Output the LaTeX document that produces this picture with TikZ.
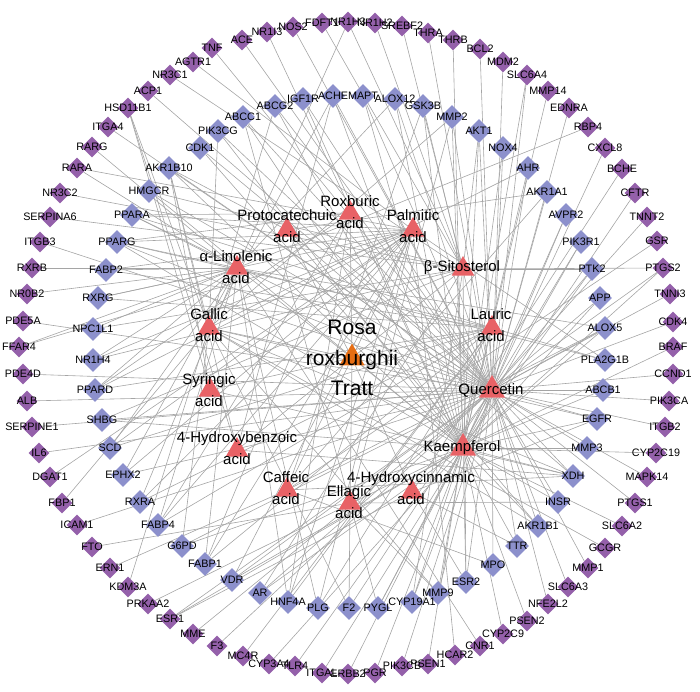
\documentclass[tikz,border=0pt]{standalone}
\usepackage{fontspec}
\setmainfont{Liberation Sans}
\usetikzlibrary{shapes.geometric,backgrounds}
\definecolor{outc}{RGB}{148,96,170}
\definecolor{inc}{RGB}{140,144,204}
\definecolor{cmpc}{RGB}{232,98,102}
\definecolor{herbc}{RGB}{230,110,20}
\definecolor{edgec}{RGB}{165,165,165}
\tikzset{
 glabel/.style={font=\fontsize{10.8}{12}\selectfont, text=black, inner sep=0pt},
 outg/.style={diamond, fill=outc, draw=none, minimum width=21pt, minimum height=21pt, inner sep=0pt, label={[glabel]center:#1}},
 ing/.style={diamond, fill=inc, draw=none, minimum width=24pt, minimum height=24pt, inner sep=0pt, label={[glabel]center:#1}},
 cmp/.style={regular polygon, regular polygon sides=3, fill=cmpc, draw=none, minimum size=26pt, inner sep=0pt},
 bigcmp/.style={cmp, minimum size=30pt},
 herb/.style={regular polygon, regular polygon sides=3, fill=herbc, draw=none, minimum size=29pt, inner sep=0pt},
 clabel/.style={font=\fontsize{15}{22}\selectfont, align=center, inner sep=0pt, text=black},
 hlabel/.style={font=\fontsize{21}{30.5}\selectfont, align=center, inner sep=0pt, text=black},
 edge/.style={draw=edgec, line width=0.6pt}
}
\newcommand\outgene[3]{\node[outg={#1}] (#1) at (#2,#3) {};}
\newcommand\ingene[3]{\node[ing={#1}] (#1) at (#2,#3) {};}
\begin{document}
\begin{tikzpicture}[x=1pt,y=-1pt]
\useasboundingbox (0,0) rectangle (700,691);
% outer ring
\outgene{NR1H3}{348}{22}
\outgene{NR1H2}{375}{23}
\outgene{SREBF2}{402}{26}
\outgene{THRA}{428}{33}
\outgene{THRB}{453}{40}
\outgene{BCL2}{480}{49}
\outgene{MDM2}{503}{62}
\outgene{SLC6A4}{527}{75}
\outgene{MMP14}{548}{91}
\outgene{EDNRA}{569}{108}
\outgene{RBP4}{588}{127}
\outgene{CXCL8}{605}{148}
\outgene{BCHE}{622}{169}
\outgene{CFTR}{635}{193}
\outgene{TNNT2}{647}{217}
\outgene{GSR}{657}{241}
\outgene{PTGS2}{663}{268}
\outgene{TNNI3}{670}{294}
\outgene{CDK4}{673}{322}
\outgene{BRAF}{673}{347}
\outgene{CCND1}{673}{374}
\outgene{PIK3CA}{669}{401}
\outgene{ITGB2}{665}{427}
\outgene{CYP2C19}{656}{453}
\outgene{MAPK14}{647}{477}
\outgene{PTGS1}{635}{503}
\outgene{SLC6A2}{622}{526}
\outgene{GCGR}{605}{548}
\outgene{MMP1}{588}{568}
\outgene{SLC6A3}{568}{587}
\outgene{NFE2L2}{548}{604}
\outgene{PSEN2}{527}{621}
\outgene{CYP2C9}{503}{634}
\outgene{CNR1}{480}{646}
\outgene{HCAR2}{455}{655}
\outgene{PSEN1}{428}{664}
\outgene{PIK3CB}{402}{666}
\outgene{PGR}{375}{673}
\outgene{ERBB2}{348}{674}
\outgene{ITGAL}{322}{673}
\outgene{TLR4}{295}{666}
\outgene{CYP3A4}{269}{664}
\outgene{MC4R}{243}{656}
\outgene{F3}{217}{646}
\outgene{MME}{193}{634}
\outgene{ESR1}{170}{619}
\outgene{PRKAA2}{148}{604}
\outgene{KDM3A}{128}{587}
\outgene{ERN1}{110}{568}
\outgene{FTO}{92}{547}
\outgene{ICAM1}{77}{525}
\outgene{FBP1}{62}{503}
\outgene{DGAT1}{50}{477}
\outgene{IL6}{39}{453}
\outgene{SERPINE1}{32}{427}
\outgene{ALB}{27}{401}
\outgene{PDE4D}{23}{374}
\outgene{FFAR4}{19}{347}
\outgene{PDE5A}{23}{321}
\outgene{NR0B2}{27}{294}
\outgene{RXRB}{32}{268}
\outgene{ITGB3}{40}{242}
\outgene{SERPINA6}{50}{217}
\outgene{NR3C2}{60}{193}
\outgene{RARA}{77}{168}
\outgene{RARG}{92}{147}
\outgene{ITGA4}{108}{127}
\outgene{HSD11B1}{128}{108}
\outgene{ACP1}{148}{91}
\outgene{NR3C1}{170}{75}
\outgene{AGTR1}{193}{62}
\outgene{TNF}{212}{48}
\outgene{ACE}{242}{40}
\outgene{NR1I3}{267}{32}
\outgene{NOS2}{293}{27}
\outgene{FDFT1}{322}{23}
% inner ring
\ingene{PIK3CG}{218}{131}
\ingene{ABCC1}{243}{117}
\ingene{ABCG2}{275}{106}
\ingene{IGF1R}{303}{99}
\ingene{ACHE}{333}{96}
\ingene{MAPT}{363}{96}
\ingene{ALOX12}{395}{99}
\ingene{GSK3B}{423}{106}
\ingene{MMP2}{452}{117}
\ingene{AKT1}{479}{131}
\ingene{NOX4}{503}{148}
\ingene{AHR}{528}{168}
\ingene{AKR1A1}{547}{192}
\ingene{AVPR2}{566}{215}
\ingene{PIK3R1}{581}{242}
\ingene{PTK2}{592}{269}
\ingene{APP}{600}{298}
\ingene{ALOX5}{605}{328}
\ingene{PLA2G1B}{605}{360}
\ingene{ABCB1}{603}{390}
\ingene{EGFR}{597}{419}
\ingene{MMP3}{587}{448}
\ingene{XDH}{573}{476}
\ingene{INSR}{558}{502}
\ingene{AKR1B1}{538}{526}
\ingene{TTR}{517}{546}
\ingene{MPO}{493}{565}
\ingene{ESR2}{466}{582}
\ingene{MMP9}{438}{593}
\ingene{CYP19A1}{412}{602}
\ingene{PYGL}{378}{608}
\ingene{F2}{349}{608}
\ingene{PLG}{318}{608}
\ingene{HNF4A}{288}{602}
\ingene{AR}{260}{593}
\ingene{VDR}{232}{580}
\ingene{FABP1}{205}{564}
\ingene{G6PD}{182}{546}
\ingene{FABP4}{158}{525}
\ingene{RXRA}{140}{502}
\ingene{EPHX2}{123}{475}
\ingene{SCD}{110}{448}
\ingene{SHBG}{102}{420}
\ingene{PPARD}{95}{390}
\ingene{NR1H4}{93}{360}
\ingene{NPC1L1}{93}{329}
\ingene{RXRG}{98}{298}
\ingene{FABP2}{106}{270}
\ingene{PPARG}{117}{242}
\ingene{PPARA}{132}{215}
\ingene{HMGCR}{149}{191}
\ingene{AKR1B10}{169}{168}
\ingene{CDK1}{200}{148}
% compounds
\node[cmp] (rox) at (350,213) {};
\node[cmp] (proto) at (287,230) {};
\node[cmp] (palm) at (413,230) {};
\node[cmp] (alin) at (237,268) {};
\node[cmp] (bsit) at (463,269) {};
\node[cmp] (gall) at (209,328) {};
\node[cmp] (laur) at (492,328) {};
\node[cmp] (syr) at (210,390) {};
\node[bigcmp] (quer) at (492,390) {};
\node[cmp] (hbenz) at (237,450) {};
\node[bigcmp] (kaem) at (463,448) {};
\node[cmp] (caff) at (287,490) {};
\node[cmp] (hcinn) at (412,492) {};
\node[cmp] (ella) at (350,503) {};
\node[herb] (rosa) at (352,358) {};
% compound labels
\node[clabel] (roxL) at (350,212) {Roxburic\\acid};
\node[clabel] (protoL) at (287,226) {Protocatechuic\\acid};
\node[clabel] (palmL) at (413,226) {Palmitic\\acid};
\node[clabel] (alinL) at (236,267) {α-Linolenic\\acid};
\node[clabel] (bsitL) at (462,268) {β-Sitosterol};
\node[clabel] (gallL) at (209,325) {Gallic\\acid};
\node[clabel] (laurL) at (491,325) {Lauric\\acid};
\node[clabel] (syrL) at (209,390) {Syringic\\acid};
\node[clabel] (querL) at (491,390) {Quercetin};
\node[clabel] (hbenzL) at (237,448) {4-Hydroxybenzoic\\acid};
\node[clabel] (kaemL) at (462,448) {Kaempferol};
\node[clabel] (caffL) at (286,488) {Caffeic\\acid};
\node[clabel] (hcinnL) at (411,488) {4-Hydroxycinnamic\\acid};
\node[clabel] (ellaL) at (349,502) {Ellagic\\acid};
\node[hlabel] (rosaL) at (352,358) {Rosa\\roxburghii\\Tratt};
% edges
\begin{scope}[on background layer]
\foreach \c in {rox,proto,palm,alin,bsit,gall,laur,syr,quer,hbenz,kaem,caff,hcinn,ella} \draw[edge] (rosa) -- (\c);
\foreach \t in {NOS2,ACE,TNF,ACP1,ITGA4,ITGB3,PDE5A,PDE4D,ALB,SERPINE1,IL6,ICAM1,ESR1,MME,F3,TLR4,ERBB2,PIK3CB,NFE2L2,SLC6A3,MMP1,PTGS1,MAPK14,ITGB2,PIK3CA,CCND1,CDK4,TNNI3,PTGS2,TNNT2,CXCL8,EDNRA,SLC6A4,MDM2,BCL2,THRA,PIK3CG,ABCC1,ABCG2,IGF1R,ACHE,MAPT,ALOX12,GSK3B,MMP2,AKT1,NOX4,AHR,AKR1A1,AVPR2,PIK3R1,PTK2,APP,ALOX5,ABCB1,EGFR,MMP3,XDH,INSR,AKR1B1,TTR,MPO,ESR2,MMP9,CYP19A1,PYGL,F2,AR,VDR,G6PD,EPHX2,SHBG,PPARG,PPARA,HMGCR,AKR1B10,CDK1} \draw[edge] (quer) -- (\t);
\foreach \t in {NR1I3,PRKAA2,ESR1,CYP3A4,ITGAL,PGR,PSEN1,CYP2C9,PSEN2,SLC6A2,CYP2C19,BRAF,PTGS2,CFTR,MMP14,SLC6A4,THRB,PIK3CG,ABCC1,ABCG2,IGF1R,ACHE,MAPT,ALOX12,GSK3B,MMP2,AKT1,NOX4,AHR,AVPR2,PIK3R1,PTK2,APP,ALOX5,ABCB1,EGFR,MMP3,XDH,INSR,AKR1B1,TTR,ESR2,MMP9,CYP19A1,PYGL,AR,VDR,G6PD,SHBG,PPARG,HMGCR,AKR1B10,CDK1} \draw[edge] (kaem) -- (\t);
\foreach \t in {NR1H3,NR1H2,SREBF2,FDFT1,NR3C1,NR3C2,SERPINA6,PTGS2,AKT1,PTK2,ESR2,CYP19A1,AR,SHBG,NR1H4,NPC1L1,HMGCR} \draw[edge] (bsit) -- (\t);
\foreach \t in {NR1H3,RARG,RARA,RXRB,NR0B2,FFAR4,CNR1,RBP4,ALOX12,ALOX5,PLA2G1B,PLG,HNF4A,FABP1,FABP4,RXRA,EPHX2,SCD,PPARD,NR1H4,NPC1L1,RXRG,FABP2,PPARG,PPARA} \draw[edge] (alin) -- (\t);
\foreach \t in {AGTR1,RARA,FFAR4,DGAT1,HCAR2,PLA2G1B,PLG,HNF4A,VDR,FABP1,FABP4,RXRA,EPHX2,SCD,PPARD,NR1H4,RXRG,FABP2,PPARG,PPARA} \draw[edge] (palm) -- (\t);
\foreach \t in {MC4R,PLA2G1B,PLG,HNF4A,FABP1,FABP4,RXRA,SCD,PPARD,RXRG,FABP2,PPARG,PPARA} \draw[edge] (laur) -- (\t);
\foreach \t in {HNF4A,FABP1,FABP4,PPARD,PPARG,PPARA} \draw[edge] (rox) -- (\t);
\foreach \t in {HSD11B1,FBP1,KDM3A,GCGR,PIK3CG,ABCG2,ACHE,MMP2,AHR,EGFR,XDH,AKR1B1,MMP9,F2,G6PD,AKR1B10} \draw[edge] (gall) -- (\t);
\foreach \t in {HSD11B1,ACHE,XDH,AKR1B10} \draw[edge] (hbenz) -- (\t);
\foreach \t in {HSD11B1,XDH,AKR1B10} \draw[edge] (syr) -- (\t);
\foreach \t in {AKR1A1,XDH,AKR1B1,AKR1B10} \draw[edge] (proto) -- (\t);
\foreach \t in {ERN1,GSR,GSK3B,AKR1A1,ALOX5,XDH,MPO} \draw[edge] (caff) -- (\t);
\foreach \t in {ESR1,BCHE,EGFR,TTR,ESR2} \draw[edge] (hcinn) -- (\t);
\foreach \t in {FTO,ABCC1,MMP2,INSR,MMP9,PYGL,F2} \draw[edge] (ella) -- (\t);
\end{scope}
\end{tikzpicture}
\end{document}
